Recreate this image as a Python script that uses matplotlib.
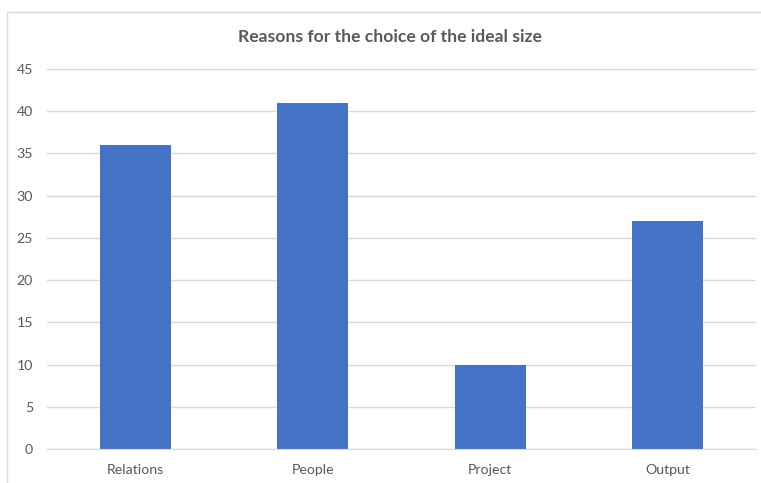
import matplotlib.pyplot as plt
from matplotlib.patches import Rectangle

categories = ["Relations", "People", "Project", "Output"]
values = [36, 41, 10, 27]
y_ticks = [0, 5, 10, 15, 20, 25, 30, 35, 40, 45]

plt.rcParams['font.family'] = ['Lato', 'DejaVu Sans']

W, H = 761, 483
fig = plt.figure(figsize=(W / 100, H / 100), dpi=100)

# chart frame (right and bottom edges cut off in the original)
fig.patches.append(Rectangle((7 / W, -0.05), 1.1, 1.05 - 12 / H,
                             transform=fig.transFigure, fill=False,
                             edgecolor='#D9D9D9', linewidth=1))

ax = fig.add_axes([47 / W, 34 / H, 709 / W, 380 / H])
x = range(len(categories))
ax.bar(x, values, width=0.4, color='#4472C4', zorder=2)

ax.set_xlim(-0.5, len(categories) - 0.5)
ax.set_ylim(0, 45)
ax.set_yticks(y_ticks)
ax.set_xticks(list(x))
ax.set_xticklabels(categories)
ax.grid(axis='y', color='#D9D9D9', linewidth=1, zorder=0)
ax.set_axisbelow(True)

for side in ['top', 'right', 'left']:
    ax.spines[side].set_visible(False)
ax.spines['bottom'].set_color('#D9D9D9')
ax.spines['bottom'].set_zorder(3)

ax.tick_params(axis='both', length=0, colors='#595959', labelsize=10.2)
ax.tick_params(axis='y', pad=10)
ax.tick_params(axis='x', pad=11)

fig.text(390 / W, 1 - 37 / H, "Reasons for the choice of the ideal size",
         ha='center', va='center', fontsize=12.6, fontweight='bold', color='#595959')

fig.savefig("out.png", dpi=100)
